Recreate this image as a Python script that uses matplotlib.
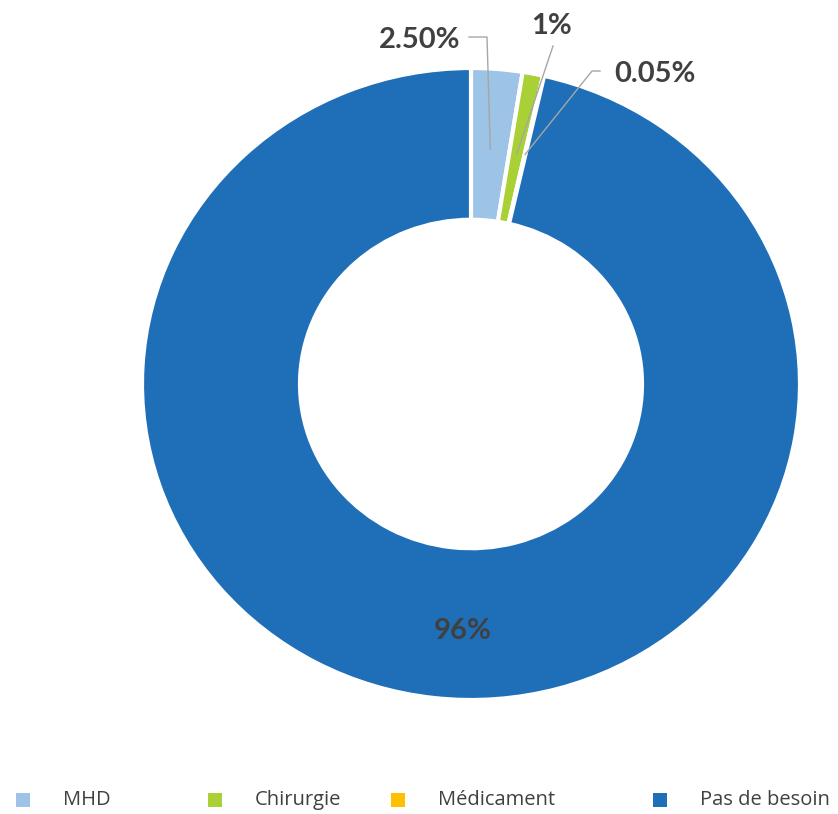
import numpy as np
import matplotlib
matplotlib.use('Agg')
import matplotlib.pyplot as plt
from matplotlib.patches import Rectangle

categories = ['MHD', 'Chirurgie', 'Médicament', 'Pas de besoin']
values = [2.5, 1, 0.05, 96]
labels = ['2.50%', '1%', '0.05%', '96%']
colors = ['#9DC3E6', '#A9D034', '#FFC000', '#1F6FB8']

W, H = 838, 814
# l'anneau est un peu étiré en largeur : 329 px en x pour 316 px en y
k = 329 / 316


def px(x, y):
    """pixel (depuis le haut) -> coordonnées de l'axe"""
    return x, (H - y) * k


fig = plt.figure(figsize=(W / 100, H / 100), dpi=100)
ax = fig.add_axes([0, 0, 1, 1])
ax.axis('off')

cx, cy = px(471, 384)
R = 329
ring = 158

wedges, _ = ax.pie(values, colors=colors, startangle=90, counterclock=False,
                   radius=R, center=(cx, cy),
                   wedgeprops=dict(width=ring, edgecolor='white', linewidth=3))
ax.set_aspect('auto')
ax.set_xlim(0, W)
ax.set_ylim(0, H * k)

txt = dict(fontfamily='Lato', fontweight='bold', color='#404040', fontsize=21)
rmid = R - ring / 2


def mid_point(w, r):
    a = np.radians((w.theta1 + w.theta2) / 2)
    return cx + r * np.cos(a), cy + r * np.sin(a)


# etiquettes au-dessus de l'anneau avec leurs traits de rappel
label_pos = [(420, 40), (552, 26), (655, 74)]
bends = [[(469, 37), (487, 37)],
         [(553, 46)],
         [(600, 71), (592, 71)]]
for w, lab, pos, pts in zip(wedges[:3], labels[:3], label_pos, bends):
    ax.text(*px(*pos), lab, ha='center', va='center', **txt)
    ex, ey = mid_point(w, rmid - 5)
    xs = [px(*p)[0] for p in pts] + [ex]
    ys = [px(*p)[1] for p in pts] + [ey]
    ax.plot(xs, ys, color='#A6A6A6', lw=1)

x96, y96 = mid_point(wedges[3], rmid - 8)
ax.text(x96 + 19, y96 - 16 * k, labels[3], ha='center', va='center', **txt)

# légende en bas
leg_x = [23, 215, 398, 660]
for x, c, name in zip(leg_x, colors, categories):
    bx, by = px(x - 7, 807)
    ax.add_patch(Rectangle((bx, by), 14, 14 * k, color=c, lw=0))
    ax.text(*px(x + 40, 800), name, ha='left', va='center',
            fontfamily='Open Sans', fontsize=14.5, color='#404040')

fig.savefig('out.png', dpi=100, facecolor='white')
